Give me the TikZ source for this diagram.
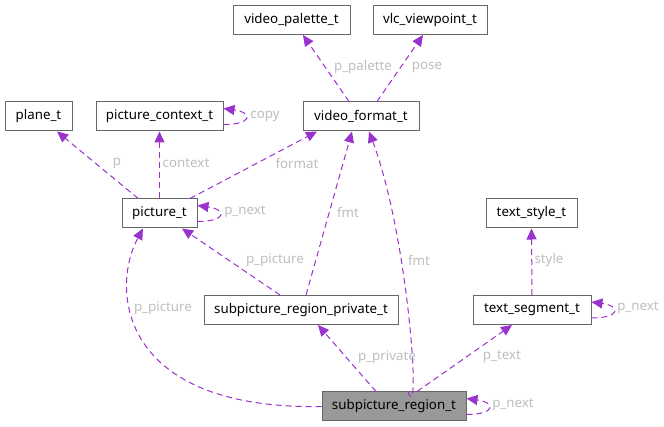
\documentclass[tikz,border=0pt]{standalone}
\usepackage{fontspec}
\setmainfont{Noto Sans}
\usetikzlibrary{arrows.meta}
\definecolor{edgec}{HTML}{9A32CD}
\definecolor{lblc}{HTML}{BEBEBE}
\definecolor{boxc}{HTML}{666666}
\definecolor{mainfill}{HTML}{999999}
\begin{document}
\begin{tikzpicture}[x=0.75pt,y=-0.75pt,
  box/.style={draw=boxc, line width=0.75pt, fill=white, minimum height=21.75pt, inner sep=0pt, font=\fontsize{10}{12}\selectfont, text=black},
  mainbox/.style={box, fill=mainfill},
  edge/.style={draw=edgec, line width=0.75pt, dash pattern=on 4.5pt off 3pt, -{Triangle[length=8.25pt,width=7.5pt]}, fill=none},
  lbl/.style={text=lblc, font=\fontsize{10}{12}\selectfont, inner sep=0pt}]
\fill[white] (0,0) rectangle (664,427);
\useasboundingbox (0,0) rectangle (664,427);
% nodes
\node[box, minimum width=87.75pt] (vp) at (291.5,20) {video\_palette\_t};
\node[box, minimum width=85.5pt] (vlc) at (430,20) {vlc\_viewpoint\_t};
\node[box, minimum width=50.25pt] (plane) at (38.5,116.5) {plane\_t};
\node[box, minimum width=95.25pt] (ctx) at (159.5,116.5) {picture\_context\_t};
\node[box, minimum width=87pt] (vf) at (361,116.5) {video\_format\_t};
\node[box, minimum width=56.25pt] (pic) at (159.5,213.5) {picture\_t};
\node[box, minimum width=68.25pt] (tstyle) at (531.5,213.5) {text\_style\_t};
\node[box, minimum width=145.5pt] (sprp) at (301,310) {subpicture\_region\_private\_t};
\node[box, minimum width=88.5pt] (ts) at (532,310) {text\_segment\_t};
\node[mainbox, minimum width=108pt] (spr) at (394,406.5) {subpicture\_region\_t};
% edges
\draw[edge] ([xshift=-9pt]vf.north) -- ([xshift=8.6pt]vp.south);
\draw[edge] ([xshift=12pt]vf.north) -- ([xshift=-5.25pt]vlc.south);
\draw[edge] ([xshift=-16pt]pic.north) -- ([xshift=13.9pt]plane.south);
\draw[edge] (pic.north) -- (ctx.south);
\draw[edge] ([xshift=22.9pt]pic.north) -- ([xshift=-33pt]vf.south);
\draw[edge] ([yshift=-6pt]ctx.east) .. controls +(22pt,0pt) and +(22pt,-3pt) .. ([yshift=6pt]ctx.east);
\draw[edge] ([yshift=-6pt]pic.east) .. controls +(22pt,0pt) and +(22pt,-3pt) .. ([yshift=6pt]pic.east);
\draw[edge] ([xshift=-15.75pt]sprp.north) -- ([xshift=16.9pt]pic.south);
\draw[edge] ([xshift=3.75pt]sprp.north) -- ([xshift=-6.75pt]vf.south);
\draw[edge] ([xshift=10.5pt]spr.north) .. controls +(10pt,-30pt) and +(30pt,-80pt) .. ([xshift=6pt]vf.south);
\draw[edge] ([xshift=-13.5pt]spr.north) -- ([xshift=12.75pt]sprp.south);
\draw[edge] ([xshift=17.25pt]spr.north) -- ([xshift=-15pt]ts.south);
\draw[edge] (ts.north) -- (tstyle.south);
\draw[edge] ([yshift=-6pt]ts.east) .. controls +(22pt,0pt) and +(22pt,-3pt) .. ([yshift=6pt]ts.east);
\draw[edge] ([yshift=-6pt]spr.east) .. controls +(22pt,0pt) and +(22pt,-3pt) .. ([yshift=6pt]spr.east);
\draw[edge] (spr.west) .. controls (120,410) and (110,290) .. ([xshift=-12.4pt]pic.south);
% labels
\node[lbl] (l1) at (363,67) {p\_palette};
\node[lbl] (l2) at (427,67) {pose};
\node[lbl] (l3) at (117,163) {p};
\node[lbl] (l4) at (186,163) {context};
\node[lbl] (l5) at (297,163) {format};
\node[lbl] (l6) at (265,116) {copy};
\node[lbl] (l7) at (245,212) {p\_next};
\node[lbl] (l8) at (348,212) {fmt};
\node[lbl] (l9) at (275,260) {p\_picture};
\node[lbl] (l10) at (419,260) {fmt};
\node[lbl] (l11) at (549,260) {style};
\node[lbl] (l12) at (163,308) {p\_picture};
\node[lbl] (l13) at (638,308) {p\_next};
\node[lbl] (l14) at (387,357) {p\_private};
\node[lbl] (l15) at (502,357) {p\_text};
\node[lbl] (l16) at (513,405) {p\_next};
\end{tikzpicture}
\end{document}
